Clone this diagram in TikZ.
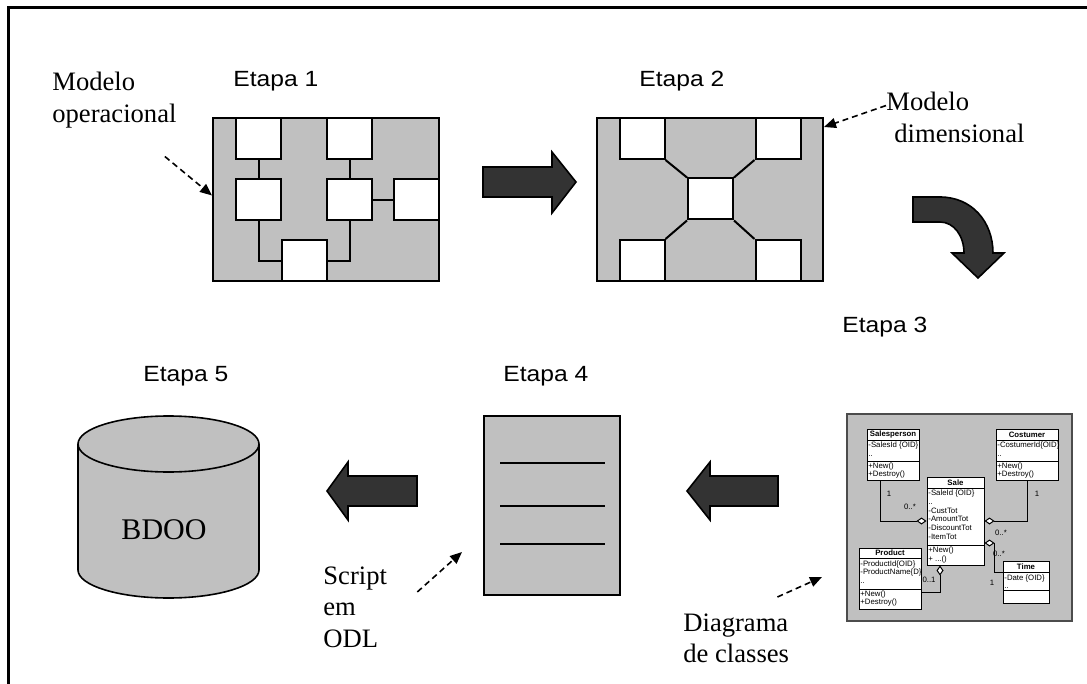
\documentclass[tikz,border=0pt]{standalone}
\usepackage{fontspec}
\setmainfont{Liberation Serif}
\setsansfont{Liberation Sans}
\newfontfamily\etapafont[FakeStretch=1.12]{Liberation Sans}
\usetikzlibrary{arrows.meta}

\definecolor{panelgray}{HTML}{C0C0C0}
\definecolor{arrowgray}{HTML}{333333}

\newcommand{\umlfont}{\sffamily\fontsize{3.9}{4.4}\selectfont}

\tikzset{
  panel/.style={draw, line width=1pt, fill=panelgray, inner sep=0pt},
  ebox/.style={draw, line width=1pt, fill=white, inner sep=0pt, minimum width=22.5pt, minimum height=20.5pt},
  elink/.style={line width=1pt},
  bigarrow/.style={draw, line width=0.8pt, fill=arrowgray},
  pointer/.style={dash pattern=on 3pt off 2pt, line width=0.8pt, -{Triangle[length=6pt, width=5pt]}},
  etapa/.style={font=\etapafont\fontsize{11}{13}\selectfont, anchor=base west, inner sep=0pt},
  legenda/.style={font=\fontsize{13.3}{15.8}\selectfont, align=left, anchor=north west, inner sep=0pt},
  umlbox/.style={draw, line width=0.5pt, fill=white, inner sep=0pt},
  umltext/.style={font=\umlfont, align=left, anchor=north west, inner sep=0pt},
  umltitle/.style={font=\umlfont\bfseries, inner sep=0pt},
  umlline/.style={line width=0.5pt},
  mult/.style={font=\umlfont, inner sep=0pt},
  agg/.tip={Diamond[fill=white, length=5pt, width=3.5pt]},
}

\begin{document}
\begin{tikzpicture}[x=0.5pt, y=-0.5pt]
    \useasboundingbox (0,0) rectangle (1087,684);

    % frame
    \draw[line width=1.5pt] (8,684) -- (8,8) -- (1087,8);

    % Etapa 1 - modelo operacional
    \node[etapa] (et1) at (233,87) {Etapa 1};
    \node[panel, minimum width=113pt, minimum height=81.5pt] (etapa1) at (326,199.5) {};
    \node[ebox] (b1tl) at (258.5,138.5) {};
    \node[ebox] (b1tm) at (349.5,138.5) {};
    \node[ebox] (b1ml) at (258.5,200) {};
    \node[ebox] (b1mm) at (349.5,200) {};
    \node[ebox] (b1mr) at (416.5,200) {};
    \node[ebox] (b1b) at (304.5,261) {};
    \draw[elink] (b1tl) -- (b1ml);
    \draw[elink] (b1tm) -- (b1mm);
    \draw[elink] (b1mm) -- (b1mr);
    \draw[elink] (b1ml) |- (b1b);
    \draw[elink] (b1mm) |- (b1b);

    \node[legenda] (modop) at (52,72) {Modelo\\operacional};
    \draw[pointer] ([xshift=-6pt, yshift=-14pt]modop.south east) -- ([yshift=2pt]etapa1.west);

    % seta 1 -> 2
    \draw[bigarrow] (483,167) -- (552,167) -- (552,152) -- (576,182) -- (552,213) -- (552,197) -- (483,197) -- cycle;

    % Etapa 2 - modelo dimensional
    \node[etapa] (et2) at (639,87) {Etapa 2};
    \node[panel, minimum width=113pt, minimum height=81.5pt] (etapa2) at (710,199.5) {};
    \node[ebox] (b2tl) at (642,138.5) {};
    \node[ebox] (b2tr) at (778,138.5) {};
    \node[ebox] (b2c) at (710.5,199) {};
    \node[ebox] (b2bl) at (642,260.5) {};
    \node[ebox] (b2br) at (778,260.5) {};
    \draw[elink] (b2tl.south east) -- (b2c.north west);
    \draw[elink] (b2tr.south west) -- (b2c.north east);
    \draw[elink] (b2bl.north east) -- (b2c.south west);
    \draw[elink] (b2br.north west) -- (b2c.south east);

    \node[legenda] (modim) at (886,92) {Modelo\\\hspace*{4pt}dimensional};
    \draw[pointer] ([yshift=6pt]modim.west) -- ([yshift=-5pt]etapa2.north east);

    % seta 2 -> 3
    \draw[bigarrow] (913,197) -- (940,197) .. controls (972,197) and (993,222) .. (993,253)
        -- (1004,253) -- (978,278) -- (952,253) -- (964,253)
        .. controls (964,236) and (954,222) .. (940,222) -- (913,222) -- cycle;

    % Etapa 3 - diagrama de classes
    \node[etapa] (et3) at (842,333) {Etapa 3};
    \node[draw=black!70, line width=0.6pt, fill=panelgray, inner sep=0pt, minimum width=112.5pt, minimum height=103.5pt] (umlpanel) at (959.5,517.5) {};

    % Salesperson
    \node[umlbox, minimum width=26pt, minimum height=25.5pt] (sp) at (893,454.5) {};
    \draw[umlline] (867,440) -- (919,440);
    \draw[umlline] (867,461) -- (919,461);
    \node[umltitle] (sptitle) at (893,434.5) {Salesperson};
    \node[umltext] (spattr) at (868,441.5) {-SalesId \{OID\}\\..};
    \node[umltext] (spop) at (868,462) {+New()\\+Destroy()};

    % Costumer
    \node[umlbox, minimum width=31pt, minimum height=25.5pt] (cu) at (1027,454.5) {};
    \draw[umlline] (996,440) -- (1058,440);
    \draw[umlline] (996,461) -- (1058,461);
    \node[umltitle] (cutitle) at (1027,434.5) {Costumer};
    \node[umltext] (cuattr) at (997,441.5) {-CostumerId\{OID\}\\..};
    \node[umltext] (cuop) at (997,462) {+New()\\+Destroy()};

    % Sale
    \node[umlbox, minimum width=28.5pt, minimum height=44pt] (sale) at (955.5,521) {};
    \draw[umlline] (927,488) -- (984,488);
    \draw[umlline] (927,545) -- (984,545);
    \node[umltitle] (saletitle) at (955.5,482.5) {Sale};
    \node[umltext] (saleattr) at (928,489.5) {-SaleId \{OID\}\\..\\-CustTot\\-AmountTot\\-DiscountTot\\-ItemTot};
    \node[umltext] (saleop) at (928,546.5) {+New()\\+ ...()};

    % Product
    \node[umlbox, minimum width=31pt, minimum height=30.5pt] (pr) at (890,578.5) {};
    \draw[umlline] (859,558) -- (921,558);
    \draw[umlline] (859,589) -- (921,589);
    \node[umltitle] (prtitle) at (890,553) {Product};
    \node[umltext] (prattr) at (860,560) {-ProductId\{OID\}\\-ProductName\{D\}\\..};
    \node[umltext] (prop) at (860,590) {+New()\\+Destroy()};

    % Time
    \node[umlbox, minimum width=23pt, minimum height=21pt] (tm) at (1026,582) {};
    \draw[umlline] (1003,572) -- (1049,572);
    \draw[umlline] (1003,590) -- (1049,590);
    \node[umltitle] (tmtitle) at (1026,566.5) {Time};
    \node[umltext] (tmattr) at (1004,574) {-Date \{OID\}\\..};

    % agregacoes
    \draw[umlline, -agg] ([xshift=-6.5pt]sp.south) |- (sale.west);
    \draw[umlline, -agg] (cu.south) |- (sale.east);
    \draw[umlline, agg-] ([yshift=-11pt]sale.east) -- ++(10,0) |- ([yshift=5pt]tm.west);
    \draw[umlline, agg-] ([xshift=-7.75pt]sale.south) |- ([yshift=-6.75pt]pr.east);
    \node[mult] (m1) at (889,494) {1};
    \node[mult] (m2) at (910,507) {0..*};
    \node[mult] (m3) at (1037,494) {1};
    \node[mult] (m4) at (1001,533) {0..*};
    \node[mult] (m5) at (999,554) {0..*};
    \node[mult] (m6) at (992,583) {1};
    \node[mult] (m7) at (929,580) {0..1};

    \node[legenda] (diag) at (683,613) {Diagrama\\de classes};
    \coordinate (diagtip) at (822,577);
    \draw[pointer] ([xshift=-6pt, yshift=8pt]diag.north east) -- (diagtip);

    % seta 3 -> 4
    \draw[bigarrow] (778,476) -- (710,476) -- (710,462) -- (687,491) -- (710,520) -- (710,506) -- (778,506) -- cycle;

    % Etapa 4 - script ODL
    \node[etapa] (et4) at (503,381) {Etapa 4};
    \node[panel, minimum width=68pt, minimum height=89.5pt] (script) at (552,505.5) {};
    \foreach \y in {463,506,544}
        \draw[line width=1.3pt] (500,\y) -- (605,\y);

    \node[legenda] (odl) at (323,566) {Script\\em\\ODL};
    \coordinate (odltip) at (462,552);
    \draw[pointer] ([xshift=15pt, yshift=7.5pt]odl.east) -- (odltip);

    % seta 4 -> 5
    \draw[bigarrow] (417,476) -- (348,476) -- (348,462) -- (327,491) -- (348,520) -- (348,506) -- (417,506) -- cycle;

    % Etapa 5 - BDOO
    \node[etapa] (et5) at (143,381) {Etapa 5};
    \filldraw[fill=panelgray, line width=0.8pt] (78,444) -- (78,570)
        arc[start angle=180, end angle=360, x radius=45.25pt, y radius=14pt]
        -- (259,444) arc[start angle=0, end angle=180, x radius=45.25pt, y radius=14pt] -- cycle;
    \draw[line width=0.8pt] (78,444) arc[start angle=180, end angle=360, x radius=45.25pt, y radius=14pt];
    \node[font=\fontsize{15}{18}\selectfont, inner sep=0pt] (bdoo) at (164,530) {BDOO};
\end{tikzpicture}
\end{document}
